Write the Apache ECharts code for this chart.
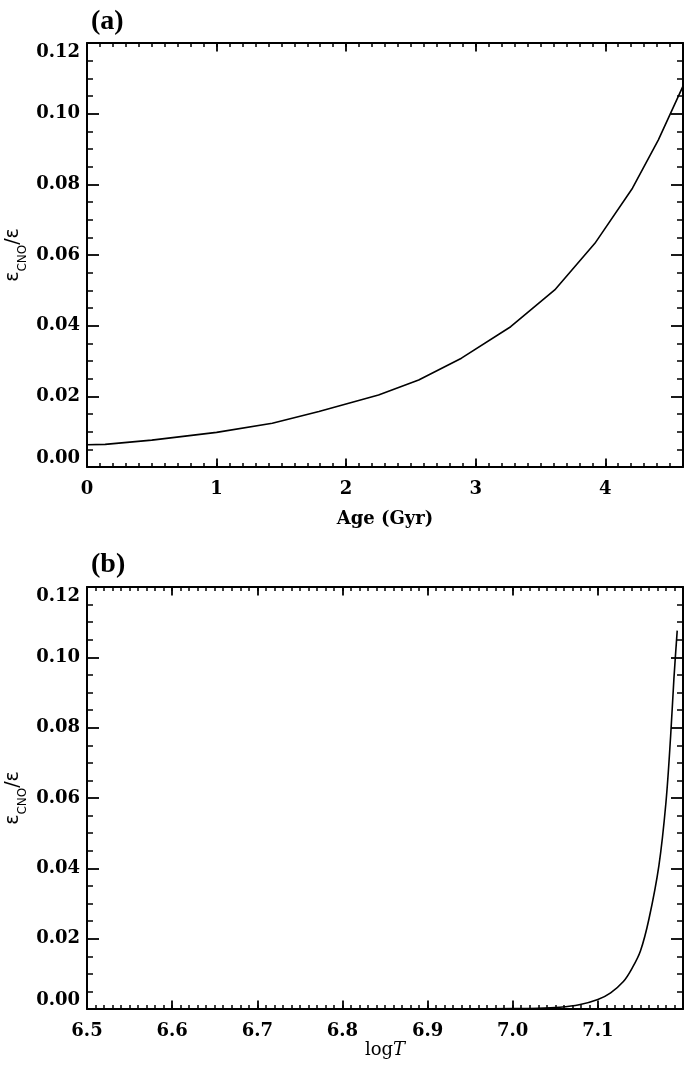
<!DOCTYPE html>
<html>
<head>
<meta charset="utf-8">
<script src="https://cdn.jsdelivr.net/npm/echarts@6/dist/echarts.min.js"></script>
<style>html,body{margin:0;padding:0;background:#fff}#c{width:685px;height:1070px}</style>
</head>
<body>
<div id="c"></div>
<script>
// Panel (a): epsilon_CNO / epsilon versus age
const ageGyr = [0, 0.14, 0.5, 1.0, 1.43, 1.79, 2.25, 2.56, 2.89, 3.27, 3.61, 3.92, 4.21, 4.41, 4.6];
const epsRatioAge = [0.0063, 0.0064, 0.0076, 0.0098, 0.0124, 0.0157, 0.0204, 0.0246, 0.0308, 0.0397, 0.0501, 0.0633, 0.0789, 0.0926, 0.1078];
// Panel (b): epsilon_CNO / epsilon versus log T
const logT = [6.50, 6.80, 6.95, 7.00, 7.03, 7.055, 7.078, 7.10, 7.115, 7.13, 7.14, 7.15, 7.16, 7.1717, 7.18, 7.1855, 7.1893, 7.1932];
const epsRatioT = [0, 0.00001, 0.00005, 0.0001, 0.0002, 0.0005, 0.0012, 0.0027, 0.0046, 0.0078, 0.0115, 0.0165, 0.0256, 0.0408, 0.0588, 0.0777, 0.0938, 0.1076];
// Tick labels / panel labels
const yTickLabels = ['0.00', '0.02', '0.04', '0.06', '0.08', '0.10', '0.12'];
const panelLabels = ['(a)', '(b)'];

const serif = '"DejaVu Serif"';
const tickFont = {fontFamily: serif, fontSize: 18, fontWeight: 'bold', color: '#000'};
const black = '#000';

function xAxes(gridIndex, min, max, majorInt, minorInt, fmt, name, nameGap, nameStyle) {
  const common = {gridIndex, type: 'value', min, max, splitLine: {show: false}};
  const majTick = {inside: true, length: 8.5, lineStyle: {color: black, width: 1.8}};
  const minTick = {inside: true, length: 4, lineStyle: {color: black, width: 1.5}};
  return [
    Object.assign({}, common, {
      position: 'bottom', interval: majorInt,
      axisLine: {show: true, onZero: false, lineStyle: {color: black, width: 2}},
      axisTick: majTick,
      axisLabel: Object.assign({showMaxLabel: false, margin: 13, formatter: fmt}, tickFont),
      name, nameLocation: 'middle', nameGap, nameTextStyle: nameStyle
    }),
    Object.assign({}, common, {
      position: 'bottom', interval: minorInt,
      axisLine: {show: false, onZero: false}, axisTick: minTick, axisLabel: {show: false}
    }),
    Object.assign({}, common, {
      position: 'top', interval: majorInt,
      axisLine: {show: true, onZero: false, lineStyle: {color: black, width: 2}},
      axisTick: majTick, axisLabel: {show: false}
    }),
    Object.assign({}, common, {
      position: 'top', interval: minorInt,
      axisLine: {show: false, onZero: false}, axisTick: minTick, axisLabel: {show: false}
    })
  ];
}

const yName = '{e|ε}{s|CNO}{e|/ε}';
const yNameStyle = {
  rich: {
    e: {fontFamily: '"DejaVu Sans"', fontSize: 19, color: black, lineHeight: 24, verticalAlign: 'middle'},
    s: {fontFamily: '"DejaVu Sans"', fontSize: 12, color: black, lineHeight: 24, verticalAlign: 'bottom', padding: [0, 0, -4, 0]}
  }
};

function yAxes(gridIndex) {
  const tick = {inside: true, length: 12, lineStyle: {color: black, width: 1.8}};
  const minor = {show: true, splitNumber: 4, length: 6, lineStyle: {color: black, width: 1.5}};
  const common = {gridIndex, type: 'value', min: 0, max: 0.12, interval: 0.02, splitLine: {show: false}, minorSplitLine: {show: false}};
  return [
    Object.assign({}, common, {
      position: 'left',
      axisLine: {show: true, onZero: false, lineStyle: {color: black, width: 2}},
      axisTick: tick, minorTick: minor,
      axisLabel: Object.assign({
        margin: 7,
        formatter: v => yTickLabels[Math.round(v / 0.02)],
        verticalAlignMinLabel: 'bottom', verticalAlignMaxLabel: 'top'
      }, tickFont),
      name: yName, nameLocation: 'middle', nameRotate: 90, nameGap: 62, nameMoveOverlap: false,
      nameTextStyle: yNameStyle
    }),
    Object.assign({}, common, {
      position: 'right',
      axisLine: {show: true, onZero: false, lineStyle: {color: black, width: 2}},
      axisTick: tick, minorTick: minor, axisLabel: {show: false}
    })
  ];
}

const ageName = 'Age (Gyr)';
const ageNameStyle = {fontFamily: serif, fontSize: 18, fontWeight: 'bold', color: black};
const tName = '{r|log}{i|T}';
const tNameStyle = {
  rich: {
    r: {fontFamily: serif, fontSize: 18, color: black},
    i: {fontFamily: serif, fontSize: 18, fontStyle: 'italic', color: black}
  }
};

const chart = echarts.init(document.getElementById('c'), null, {renderer: 'canvas'});
chart.setOption({
  animation: false,
  backgroundColor: '#fff',
  grid: [
    {left: 87, top: 43, width: 596, height: 424, outerBoundsMode: 'none', containLabel: false},
    {left: 87, top: 587, width: 596, height: 422, outerBoundsMode: 'none', containLabel: false}
  ],
  xAxis: [].concat(
    xAxes(0, 0, 4.6, 1, 0.1, v => String(Math.round(v)), ageName, 43, ageNameStyle),
    xAxes(1, 6.5, 7.2, 0.1, 0.01, v => v.toFixed(1), tName, 32, tNameStyle)
  ),
  yAxis: [].concat(yAxes(0), yAxes(1)),
  graphic: [
    {type: 'text', left: 91, top: 8, style: {text: panelLabels[0], font: 'bold 28px "Liberation Serif"', fill: black}},
    {type: 'text', left: 91, top: 551, style: {text: panelLabels[1], font: 'bold 28px "Liberation Serif"', fill: black}}
  ],
  series: [
    {
      type: 'line', xAxisIndex: 0, yAxisIndex: 0, symbol: 'none', smooth: false,
      lineStyle: {color: black, width: 1.6},
      data: ageGyr.map((x, i) => [x, epsRatioAge[i]])
    },
    {
      type: 'line', xAxisIndex: 4, yAxisIndex: 2, symbol: 'none', smooth: 0.35,
      lineStyle: {color: black, width: 1.6},
      data: logT.map((x, i) => [x, epsRatioT[i]])
    }
  ]
});
</script>
</body>
</html>
